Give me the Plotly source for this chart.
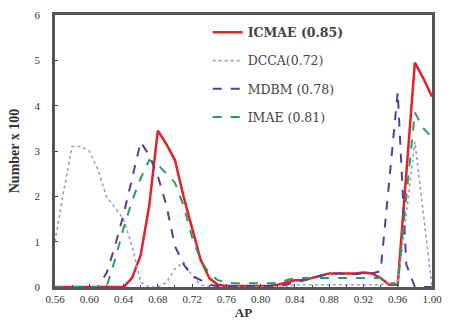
import plotly.graph_objects as go

ap = [round(0.56 + 0.01 * i, 2) for i in range(45)]

icmae = [0, 0, 0, 0, 0, 0, 0, 0, 0, 0.2, 0.7, 1.8, 3.45, 3.15, 2.8, 2.0, 1.3, 0.6, 0.2, 0.05,
         0.02, 0.02, 0.02, 0.02, 0.02, 0.03, 0.05, 0.1, 0.15, 0.15, 0.2, 0.25, 0.3, 0.3, 0.3, 0.3,
         0.32, 0.3, 0.2, 0.05, 0.05, 2.5, 4.95, 4.6, 4.2]
dcca = [1.0, 2.1, 3.1, 3.1, 3.0, 2.6, 2.0, 1.75, 1.5, 0.9, 0.1, 0, 0, 0.1, 0.4, 0.55, 0.25, 0.05, 0,
        0, 0, 0, 0, 0, 0, 0, 0, 0, 0.05, 0.05, 0.05, 0.05, 0.05, 0.05, 0.05, 0.05,
        0.05, 0.05, 0.05, 0.1, 0.1, 1.6, 3.2, 1.6, 0]
mdbm = [0, 0, 0, 0, 0, 0, 0.3, 0.9, 1.6, 2.4, 3.2, 2.9, 2.45, 1.8, 0.9, 0.5, 0.25, 0.15, 0.05, 0.02,
        0.02, 0.02, 0.02, 0.02, 0.02, 0.02, 0.02, 0.05, 0.1, 0.15, 0.2, 0.25, 0.28, 0.3, 0.3, 0.28,
        0.3, 0.3, 0.35, 2.4, 4.3, 0.5, 0, 0, 0]
imae = [0, 0, 0, 0, 0, 0, 0, 0.6, 1.3, 1.9, 2.4, 2.8, 2.7, 2.5, 2.3, 1.8, 1.1, 0.6, 0.3, 0.15,
        0.1, 0.08, 0.08, 0.08, 0.08, 0.08, 0.08, 0.15, 0.2, 0.2, 0.2, 0.2, 0.2, 0.2, 0.2, 0.2,
        0.2, 0.2, 0.2, 0.1, 0.05, 2.0, 3.85, 3.5, 3.3]

xticks = [0.56, 0.60, 0.64, 0.68, 0.72, 0.76, 0.80, 0.84, 0.88, 0.92, 0.96, 1.00]
yticks = [0, 1, 2, 3, 4, 5, 6]

series = [
    ("<b>ICMAE (0.85)</b>", icmae, "#e3212b", "solid", 2.5),
    ("DCCA(0.72)", dcca, "#8ea3cc", "dot", 1.6),
    ("MDBM (0.78)", mdbm, "#5a3c98", "dash", 2),
    ("IMAE (0.81)", imae, "#2f9a5f", "dash", 2),
]

fig = go.Figure()
for i, (name, ys, col, dash, w) in enumerate(series):
    fig.add_trace(go.Scatter(x=ap, y=ys, mode="lines", name=name, legendgroup=str(i),
                             line=dict(color=col, dash=dash, width=w)))

font = "Liberation Serif, Times New Roman, serif"
lfont = "DejaVu Serif, serif"
fig.update_layout(
    width=451, height=333,
    margin=dict(l=55, r=9, t=10, b=46),
    paper_bgcolor="white", plot_bgcolor="white",
    font=dict(family=font, size=11, color="#333"),
    showlegend=True,
    legend=dict(x=0.405, y=0.99, xanchor="left", yanchor="top", bgcolor="rgba(0,0,0,0)",
                font=dict(family=lfont, size=12.5, color="#444"), tracegroupgap=9),
    xaxis=dict(range=[0.56, 1.0], tickvals=xticks, ticktext=[f"{v:.2f}" for v in xticks],
               showgrid=False, zeroline=False, showline=True, linecolor="#555", linewidth=2.5,
               mirror=True, ticks="inside", ticklen=3, tickcolor="#444",
               minor=dict(dtick=0.02, tick0=0.56, ticks="inside", ticklen=2, tickcolor="#444"),
               title=dict(text="<b>AP</b>", font=dict(family=font, size=13), standoff=2),
               tickfont=dict(family=font, size=11)),
    yaxis=dict(range=[0, 6], tickvals=yticks, showgrid=False, zeroline=False, showline=True,
               linecolor="#555", linewidth=2.5, mirror=True, ticks="inside", ticklen=3,
               tickcolor="#444", ticklabelstandoff=10,
               title=dict(text="<b>Number x 100</b>", font=dict(family=font, size=14), standoff=12),
               tickfont=dict(family=font, size=11)),
)

fig.write_html("out.html", config={"displayModeBar": False},
               post_script="document.body.style.margin='0';document.body.style.overflow='hidden';")
